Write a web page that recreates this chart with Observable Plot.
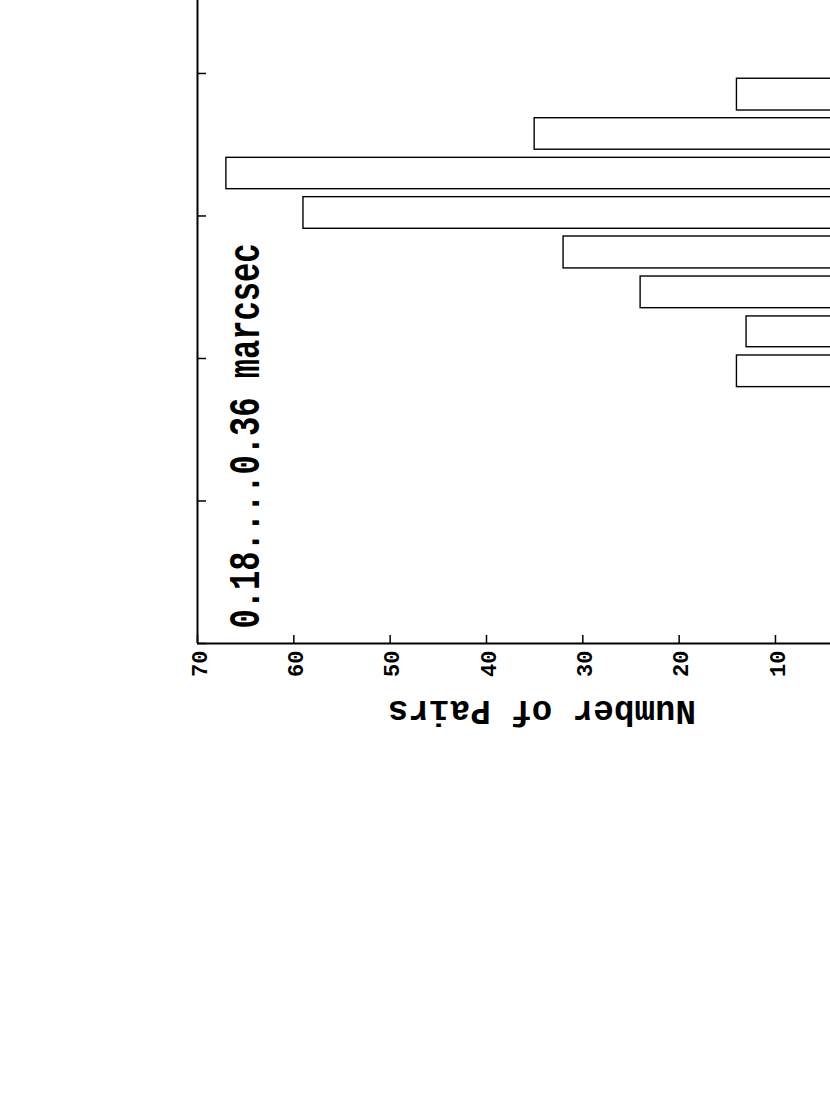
<!DOCTYPE html>
<html><head><meta charset="utf-8">
<script src="https://cdn.jsdelivr.net/npm/d3@7"></script>
<script src="https://cdn.jsdelivr.net/npm/@observablehq/plot@0.6"></script>
<style>
html,body{margin:0;padding:0;background:#fff;overflow:hidden;}
#chart{width:830px;height:1107px;overflow:hidden;position:relative;}
#chart svg{max-width:none !important;width:872px;height:1107px;display:block;}
</style></head><body><div id="chart"></div>
<script>
// Histogram counts, top bar to bottom bar
const counts = [14, 35, 67, 59, 32, 24, 13, 14];
// Bar edges along the (unlabelled) vertical axis, in tick units
const binLow  = [3.740, 3.465, 3.188, 2.910, 2.632, 2.353, 2.079, 1.799];
const binHigh = [3.963, 3.686, 3.408, 3.132, 2.856, 2.575, 2.295, 2.021];
const xTicks = [70, 60, 50, 40, 30, 20, 10];
const yTicks = [0, 1, 2, 3, 4];
const xLabel = "Number of Pairs";
const panelNote = "0.18....0.36 marcsec";

const bars = counts.map((c, i) => ({count: c, lo: binLow[i], hi: binHigh[i]}));
const font = "'Liberation Mono', 'Courier New', monospace";

const plot = Plot.plot({
  width: 872, height: 1107,
  marginLeft: 197, marginRight: 0, marginTop: 0, marginBottom: 464,
  x: {domain: [70, 0], range: [197, 871.3]},
  y: {domain: [0, 4.512], range: [643, 0]},
  style: {background: "white", fontFamily: font, color: "black"},
  marks: [
    Plot.rectX(bars, {x1: 0, x2: "count", y1: "lo", y2: "hi", fill: "white", stroke: "black", strokeWidth: 1.4}),
    Plot.ruleX([70], {stroke: "black", strokeWidth: 2}),
    Plot.ruleY([0], {stroke: "black", strokeWidth: 2}),
    Plot.axisY({ticks: yTicks, tickSize: -9, tickFormat: () => "", label: null, strokeWidth: 1.5}),
    Plot.axisX({ticks: xTicks, tickSize: -8, tickFormat: () => "", label: null, strokeWidth: 1.5}),
    Plot.axisX({ticks: xTicks, tickSize: 0, tickPadding: 7, tickRotate: -90, dx: 2, label: null, fontSize: 22, fontWeight: "bold", fill: "black"}),
    Plot.text([xLabel], {frameAnchor: "bottom", rotate: 180, dx: 7, dy: 57, fontSize: 35, fontWeight: "bold", fill: "black", fontFamily: font}),
    Plot.text([panelNote], {frameAnchor: "bottom-left", rotate: -90, textAnchor: "start", dx: 61, dy: -15, fontSize: 44, fontWeight: "bold", fill: "black", fontFamily: font})
  ]
});
document.getElementById("chart").appendChild(plot);

// compress long labels to the widths seen in the reference
plot.querySelectorAll("text").forEach(t => {
  if (t.textContent === panelNote) { t.setAttribute("textLength", 385); t.setAttribute("lengthAdjust", "spacingAndGlyphs"); }
  if (t.textContent === xLabel) { t.setAttribute("textLength", 308); t.setAttribute("lengthAdjust", "spacingAndGlyphs"); }
});
</script></body></html>
